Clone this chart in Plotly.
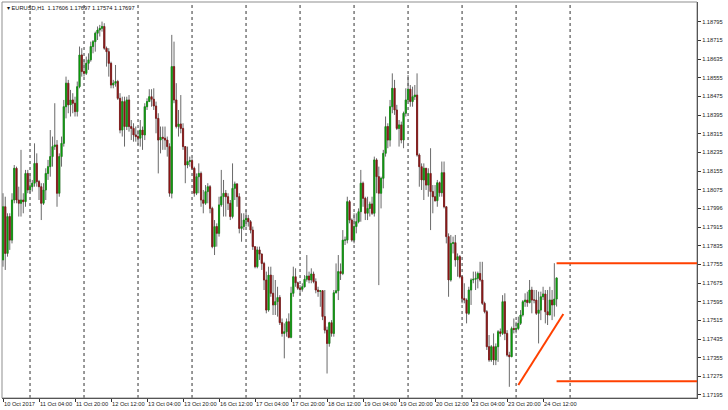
import pandas as pd
import plotly.graph_objects as go

symbol = "EURUSD,H1"
first_open = 1.17774

close = [
    1.18002, 1.17802, 1.17960, 1.17859, 1.18031, 1.18167, 1.18031, 1.18017, 1.18031, 1.18024,
    1.18145, 1.18074, 1.18088, 1.18103, 1.18188, 1.18110, 1.18088, 1.18017, 1.18074, 1.18145,
    1.18174, 1.18217, 1.18260, 1.18267, 1.18060, 1.18217, 1.18274, 1.18431, 1.18532, 1.18439,
    1.18460, 1.18446, 1.18410, 1.18517, 1.18653, 1.18582, 1.18574, 1.18617, 1.18632, 1.18689,
    1.18710, 1.18746, 1.18760, 1.18767, 1.18775, 1.18682, 1.18667, 1.18617, 1.18524, 1.18532,
    1.18539, 1.18467, 1.18331, 1.18453, 1.18346, 1.18460, 1.18346, 1.18338, 1.18310, 1.18303,
    1.18296, 1.18331, 1.18310, 1.18431, 1.18453, 1.18474, 1.18463, 1.18434, 1.18381, 1.18288,
    1.18300, 1.18296, 1.18288, 1.18260, 1.18060, 1.18603, 1.18460, 1.18346, 1.18357, 1.18338,
    1.18260, 1.18181, 1.18196, 1.18200, 1.18167, 1.18060, 1.18131, 1.18145, 1.18031, 1.18017,
    1.18067, 1.18088, 1.17995, 1.17831, 1.17917, 1.17888, 1.18010, 1.18045, 1.18060, 1.18045,
    1.18017, 1.17960, 1.18081, 1.18100, 1.18045, 1.17909, 1.17917, 1.17945, 1.17952, 1.17938,
    1.17902, 1.17831, 1.17745, 1.17817, 1.17799, 1.17759, 1.17688, 1.17559, 1.17709, 1.17631,
    1.17581, 1.17595, 1.17613, 1.17505, 1.17459, 1.17466, 1.17509, 1.17442, 1.17631, 1.17702,
    1.17676, 1.17653, 1.17648, 1.17659, 1.17691, 1.17705, 1.17688, 1.17714, 1.17681, 1.17645,
    1.17639, 1.17642, 1.17531, 1.17473, 1.17416, 1.17505, 1.17459, 1.17633, 1.17642, 1.17724,
    1.17716, 1.17859, 1.17859, 1.18024, 1.17945, 1.17859, 1.17917, 1.17938, 1.17981, 1.18103,
    1.18038, 1.17974, 1.17995, 1.18014, 1.17974, 1.18203, 1.18131, 1.18060, 1.18124, 1.18231,
    1.18346, 1.18288, 1.18431, 1.18510, 1.18417, 1.18338, 1.18353, 1.18288, 1.18403, 1.18460,
    1.18506, 1.18453, 1.18474, 1.18481, 1.18224, 1.18174, 1.18117, 1.18167, 1.18095, 1.18145,
    1.18067, 1.18045, 1.18028, 1.18105, 1.18062, 1.18148, 1.18002, 1.17874, 1.17688, 1.17845,
    1.17848, 1.17774, 1.17788, 1.17702, 1.17609, 1.17602, 1.17545, 1.17645, 1.17688, 1.17691,
    1.17695, 1.17716, 1.17688, 1.17588, 1.17552, 1.17402, 1.17345, 1.17402, 1.17345, 1.17402,
    1.17466, 1.17459, 1.17595, 1.17459, 1.17366, 1.17359, 1.17480, 1.17476, 1.17480, 1.17502,
    1.17538, 1.17595, 1.17602, 1.17591, 1.17645, 1.17602, 1.17602, 1.17545, 1.17559, 1.17616,
    1.17628, 1.17552, 1.17538, 1.17602, 1.17581, 1.17606, 1.17697,
]

high = [
    1.18060, 1.18045, 1.17974, 1.17974, 1.18060, 1.18181, 1.18174, 1.18088, 1.18246, 1.18060,
    1.18160, 1.18160, 1.18145, 1.18117, 1.18274, 1.18231, 1.18117, 1.18103, 1.18103, 1.18167,
    1.18203, 1.18331, 1.18303, 1.18446, 1.18288, 1.18231, 1.18303, 1.18460, 1.18560, 1.18546,
    1.18503, 1.18489, 1.18474, 1.18539, 1.18689, 1.18682, 1.18632, 1.18646, 1.18660, 1.18710,
    1.18717, 1.18753, 1.18775, 1.18782, 1.18796, 1.18789, 1.18689, 1.18682, 1.18624, 1.18546,
    1.18610, 1.18546, 1.18489, 1.18474, 1.18474, 1.18474, 1.18481, 1.18374, 1.18360, 1.18346,
    1.18331, 1.18374, 1.18346, 1.18446, 1.18467, 1.18506, 1.18506, 1.18510, 1.18453, 1.18403,
    1.18346, 1.18346, 1.18346, 1.18303, 1.18274, 1.18739, 1.18710, 1.18532, 1.18417, 1.18481,
    1.18360, 1.18260, 1.18260, 1.18217, 1.18210, 1.18174, 1.18145, 1.18188, 1.18153, 1.18074,
    1.18095, 1.18103, 1.18095, 1.18002, 1.17945, 1.17931, 1.18045, 1.18160, 1.18117, 1.18074,
    1.18060, 1.18031, 1.18188, 1.18110, 1.18103, 1.18060, 1.17974, 1.17974, 1.17988, 1.17967,
    1.17945, 1.17917, 1.17831, 1.17831, 1.17831, 1.17802, 1.17766, 1.17724, 1.17745, 1.17745,
    1.17709, 1.17688, 1.17659, 1.17623, 1.17523, 1.17502, 1.17523, 1.17545, 1.17659, 1.17745,
    1.17738, 1.17681, 1.17666, 1.17674, 1.17709, 1.17795, 1.17724, 1.17738, 1.17724, 1.17695,
    1.17659, 1.17645, 1.17645, 1.17645, 1.17488, 1.17509, 1.17516, 1.17645, 1.17759, 1.17795,
    1.17759, 1.17902, 1.17874, 1.18045, 1.18031, 1.17952, 1.17974, 1.17974, 1.17995, 1.18160,
    1.18110, 1.18045, 1.18045, 1.18024, 1.18045, 1.18217, 1.18210, 1.18174, 1.18131, 1.18246,
    1.18389, 1.18360, 1.18460, 1.18574, 1.18546, 1.18439, 1.18374, 1.18367, 1.18410, 1.18510,
    1.18567, 1.18524, 1.18517, 1.18524, 1.18574, 1.18231, 1.18188, 1.18188, 1.18167, 1.18167,
    1.18253, 1.18095, 1.18095, 1.18117, 1.18110, 1.18196, 1.18196, 1.18002, 1.17888, 1.17881,
    1.17874, 1.17881, 1.17802, 1.17795, 1.17709, 1.17674, 1.17609, 1.17659, 1.17695, 1.17724,
    1.17724, 1.17724, 1.17766, 1.17766, 1.17595, 1.17559, 1.17452, 1.17409, 1.17459, 1.17416,
    1.17473, 1.17480, 1.17623, 1.17631, 1.17473, 1.17380, 1.17488, 1.17523, 1.17509, 1.17531,
    1.17559, 1.17602, 1.17631, 1.17638, 1.17688, 1.17659, 1.17645, 1.17645, 1.17638, 1.17638,
    1.17659, 1.17645, 1.17645, 1.17659, 1.17645, 1.17760, 1.17697,
]

low = [
    1.17745, 1.17731, 1.17788, 1.17817, 1.17845, 1.18017, 1.18017, 1.17960, 1.17960, 1.17974,
    1.18002, 1.18060, 1.18060, 1.18067, 1.18088, 1.18088, 1.18031, 1.17945, 1.18010, 1.18031,
    1.18117, 1.18131, 1.18174, 1.18246, 1.18002, 1.18045, 1.18174, 1.18260, 1.18381, 1.18403,
    1.18389, 1.18403, 1.18389, 1.18389, 1.18510, 1.18560, 1.18560, 1.18567, 1.18589, 1.18624,
    1.18660, 1.18667, 1.18717, 1.18732, 1.18753, 1.18675, 1.18603, 1.18560, 1.18510, 1.18510,
    1.18517, 1.18460, 1.18317, 1.18303, 1.18260, 1.18331, 1.18324, 1.18288, 1.18281, 1.18281,
    1.18267, 1.18260, 1.18246, 1.18288, 1.18417, 1.18453, 1.18431, 1.18417, 1.18317, 1.18145,
    1.18231, 1.18246, 1.18246, 1.18217, 1.18045, 1.18038, 1.18446, 1.18338, 1.18303, 1.18317,
    1.18246, 1.18103, 1.18167, 1.18174, 1.18160, 1.18045, 1.18052, 1.18060, 1.18002, 1.17974,
    1.18010, 1.18017, 1.17974, 1.17824, 1.17795, 1.17831, 1.17874, 1.18002, 1.17960, 1.17960,
    1.17988, 1.17945, 1.17952, 1.18031, 1.18002, 1.17888, 1.17852, 1.17902, 1.17917, 1.17917,
    1.17888, 1.17817, 1.17738, 1.17738, 1.17774, 1.17731, 1.17645, 1.17545, 1.17552, 1.17616,
    1.17538, 1.17538, 1.17531, 1.17495, 1.17445, 1.17352, 1.17445, 1.17438, 1.17438, 1.17616,
    1.17659, 1.17645, 1.17623, 1.17638, 1.17656, 1.17681, 1.17674, 1.17674, 1.17674, 1.17631,
    1.17616, 1.17573, 1.17516, 1.17459, 1.17287, 1.17402, 1.17445, 1.17445, 1.17631, 1.17602,
    1.17688, 1.17709, 1.17838, 1.17845, 1.17931, 1.17852, 1.17845, 1.17888, 1.17931, 1.17938,
    1.18002, 1.17945, 1.17945, 1.17960, 1.17967, 1.17960, 1.18060, 1.17666, 1.17995, 1.18081,
    1.18217, 1.18253, 1.18260, 1.18403, 1.18396, 1.18331, 1.18260, 1.18274, 1.18253, 1.18389,
    1.18453, 1.18431, 1.18431, 1.18460, 1.18217, 1.18088, 1.18074, 1.18031, 1.18074, 1.18045,
    1.17902, 1.17974, 1.18024, 1.18002, 1.18045, 1.18045, 1.17995, 1.17845, 1.17616, 1.17681,
    1.17802, 1.17745, 1.17702, 1.17695, 1.17588, 1.17588, 1.17502, 1.17538, 1.17581, 1.17674,
    1.17645, 1.17652, 1.17681, 1.17581, 1.17545, 1.17388, 1.17337, 1.17337, 1.17323, 1.17323,
    1.17337, 1.17445, 1.17452, 1.17430, 1.17359, 1.17230, 1.17359, 1.17459, 1.17459, 1.17473,
    1.17495, 1.17531, 1.17573, 1.17573, 1.17588, 1.17545, 1.17588, 1.17538, 1.17416, 1.17516,
    1.17602, 1.17502, 1.17495, 1.17538, 1.17516, 1.17531, 1.17574,
]

open_ = [first_open] + close[:-1]

price_ticks = [1.18795, 1.18715, 1.18635, 1.18555, 1.18475, 1.18395, 1.18315, 1.18235,
               1.18155, 1.18075, 1.17996, 1.17915, 1.17835, 1.17755, 1.17675, 1.17595,
               1.17515, 1.17435, 1.17355, 1.17275, 1.17195]
price_tick_text = ["1.18795", "1.18715", "1.18635", "1.18555", "1.18475", "1.18395", "1.18315",
                   "1.18235", "1.18155", "1.18075", "1.17996", "1.17915", "1.17835", "1.17755",
                   "1.17675", "1.17595", "1.17515", "1.17435", "1.17355", "1.17275", "1.17195"]

time_tick_times = ["2017-10-10 12:00", "2017-10-11 04:00", "2017-10-11 20:00", "2017-10-12 12:00",
                   "2017-10-13 04:00", "2017-10-13 20:00", "2017-10-16 12:00", "2017-10-17 04:00",
                   "2017-10-17 20:00", "2017-10-18 12:00", "2017-10-19 04:00", "2017-10-19 20:00",
                   "2017-10-20 12:00", "2017-10-23 04:00", "2017-10-23 20:00", "2017-10-24 12:00"]
time_tick_text = ["10 Oct 2017", "11 Oct 04:00", "11 Oct 20:00", "12 Oct 12:00", "13 Oct 04:00",
                  "13 Oct 20:00", "16 Oct 12:00", "17 Oct 04:00", "17 Oct 20:00", "18 Oct 12:00",
                  "19 Oct 04:00", "19 Oct 20:00", "20 Oct 12:00", "23 Oct 04:00", "23 Oct 20:00",
                  "24 Oct 12:00"]

level_start_time = "2017-10-24 18:00"
level_prices = [1.17760, 1.17254]
trend_times = ["2017-10-24 01:00", "2017-10-24 21:00"]
trend_prices = [1.17238, 1.17542]

# hourly bar timeline (weekdays only), extended to the next day separator
hours = pd.date_range("2017-10-10 12:00", "2017-10-25 00:00", freq="h")
bar_times = hours[hours.dayofweek < 5]
x = list(range(len(close)))


def bar_pos(t):
    return int(bar_times.get_loc(pd.Timestamp(t)))


x_range = [-0.45, 308.4]
y_range = [1.17182, 1.18880]

GREEN = "#0a9a0a"
RED = "#8c1414"
WICK = "#6a6a6a"
LINE_RED = "#ff4000"
FONT = "Liberation Sans"
FS = 5.7

fig = go.Figure()

# wicks
fig.add_trace(go.Candlestick(
    x=x, open=open_, high=high, low=low, close=close,
    increasing=dict(line=dict(color=WICK, width=1), fillcolor=WICK),
    decreasing=dict(line=dict(color=WICK, width=1), fillcolor=WICK),
    whiskerwidth=0, hoverinfo="skip", showlegend=False,
))
# bodies
body_hi = [max(o, c) for o, c in zip(open_, close)]
body_lo = [min(o, c) for o, c in zip(open_, close)]
fig.add_trace(go.Candlestick(
    x=x, open=open_, high=body_hi, low=body_lo, close=close,
    increasing=dict(line=dict(color=GREEN, width=0.6), fillcolor=GREEN),
    decreasing=dict(line=dict(color=RED, width=0.6), fillcolor=RED),
    whiskerwidth=0, showlegend=False,
))

# analyst lines
lvl_x0 = bar_pos(level_start_time)
for p in level_prices:
    fig.add_trace(go.Scatter(x=[lvl_x0, x_range[1]], y=[p, p], mode="lines",
                             line=dict(color=LINE_RED, width=2), showlegend=False,
                             hoverinfo="skip"))
fig.add_trace(go.Scatter(x=[bar_pos(t) for t in trend_times], y=trend_prices, mode="lines",
                         line=dict(color=LINE_RED, width=2), showlegend=False,
                         hoverinfo="skip"))

# day separators
shapes = []
for i, t in enumerate(bar_times):
    if t.hour == 0:
        shapes.append(dict(type="line", xref="x", yref="paper", x0=i, x1=i, y0=0, y1=1,
                           line=dict(color="#333333", width=1, dash="dot"), layer="below"))
# frame (top/left)
shapes.append(dict(type="rect", xref="paper", yref="paper", x0=0, x1=1, y0=0, y1=1,
                   line=dict(color="#8f8f8f", width=1), layer="below"))

title_text = "▾ %s  %.5f %.5f %.5f %.5f" % (symbol, open_[-1], high[-1], low[-1], close[-1])

fig.update_layout(
    width=728, height=410,
    margin=dict(l=2, r=31, t=2, b=12, autoexpand=False),
    paper_bgcolor="white", plot_bgcolor="white",
    boxgap=0.3,
    shapes=shapes,
    showlegend=False,
    font=dict(family=FONT, size=FS, color="#222222"),
    annotations=[dict(text=title_text, xref="paper", yref="paper", x=0.004, y=0.997,
                      xanchor="left", yanchor="top", showarrow=False,
                      font=dict(family=FONT, size=FS, color="#111111"))],
    xaxis=dict(range=x_range, rangeslider=dict(visible=False), showgrid=False,
               zeroline=False, showline=True, linecolor="#555555", linewidth=1,
               tickmode="array", tickvals=[bar_pos(t) for t in time_tick_times],
               ticktext=time_tick_text, ticks="outside", ticklen=3, tickcolor="#333333",
               ticklabelposition="outside right", tickangle=0, automargin=False,
               tickfont=dict(family=FONT, size=FS, color="#222222")),
    yaxis=dict(range=y_range, side="right", showgrid=False, zeroline=False,
               showline=True, linecolor="#555555", linewidth=1,
               tickmode="array", tickvals=price_ticks, ticktext=price_tick_text,
               ticks="outside", ticklen=3, tickcolor="#333333", automargin=False,
               tickfont=dict(family=FONT, size=FS, color="#222222")),
)

fig.write_html("out.html", config={"displayModeBar": False},
               post_script="document.body.style.margin='0';")
